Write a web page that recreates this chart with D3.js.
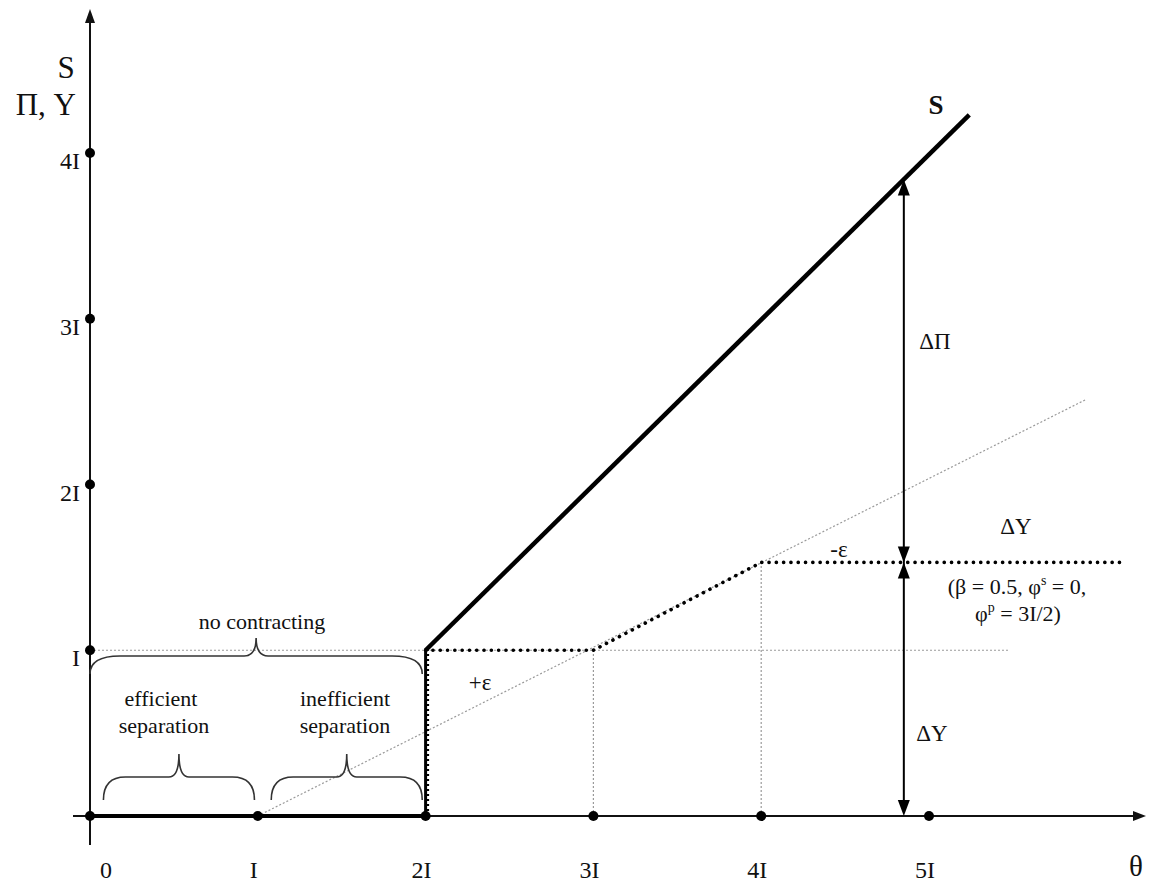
<!DOCTYPE html>
<html>
<head>
<meta charset="utf-8">
<script src="https://cdn.jsdelivr.net/npm/d3@7"></script>
<style>
  html, body { margin: 0; padding: 0; background: #fff; }
  svg { display: block; }
  text { font-family: "Liberation Serif", "DejaVu Serif", serif; fill: #111; }
</style>
</head>
<body>
<svg id="chart" width="1152" height="889"></svg>
<script>
// ---- data ----
const xTicks = [0, 1, 2, 3, 4, 5];
const xTickLabels = ["0", "I", "2I", "3I", "4I", "5I"];
const yTicks = [1, 2, 3, 4];
const yTickLabels = ["I", "2I", "3I", "4I"];

// S schedule (thick solid): zero up to 2I, then rises from (2I, I)
const sBase = [[0, 0], [2, 0]];
const sLine = [[2, 1], [5.24, 4.23]];
// thick dotted schedule
const dottedVertical = [[2, 0], [2, 1]];
const dottedPath = [[2, 1], [3, 1], [4, 1.53], [6.14, 1.53]];
// thin grey guides
const greyDiagonal = [[1, 0], [5.93, 2.51]];
const greyHorizontal = [[0, 1], [5.48, 1]];
const greyVerticals = [[[3, 0], [3, 1]], [[4, 0], [4, 1.53]]];
// double arrow position (theta) and its levels
const arrowTheta = 4.85;
const arrowLevels = { top: 3.84, mid: 1.53, bottom: 0 };

// ---- scales ----
const svg = d3.select("#chart");
const x = d3.scaleLinear().domain([0, 5]).range([90, 929]);
const y = d3.scaleLinear().domain([0, 4]).range([816, 153]);
const line = d3.line().x(d => x(d[0])).y(d => y(d[1]));

// ---- grey thin dotted guides ----
const grey = svg.append("g").attr("fill", "none").attr("stroke", "#9a9a9a")
  .attr("stroke-width", 1.2).attr("stroke-dasharray", "2 2");
grey.append("path").attr("d", line(greyDiagonal));
grey.append("path").attr("d", line(greyHorizontal));
greyVerticals.forEach(v => grey.append("path").attr("d", line(v)));

// ---- axes ----
const axes = svg.append("g").attr("stroke", "#111").attr("stroke-width", 2);
axes.append("line").attr("x1", 73).attr("x2", 1138).attr("y1", y(0)).attr("y2", y(0));
axes.append("line").attr("x1", x(0)).attr("x2", x(0)).attr("y1", 845).attr("y2", 18);
svg.append("path").attr("fill", "#111")
  .attr("d", `M1146,${y(0)} L1133,${y(0) - 5} L1133,${y(0) + 5} Z`);
svg.append("path").attr("fill", "#111")
  .attr("d", `M${x(0)},9 L${x(0) - 5},23 L${x(0) + 5},23 Z`);

// ---- thick solid S ----
svg.append("path").attr("d", line(sBase)).attr("fill", "none")
  .attr("stroke", "#000").attr("stroke-width", 4);
svg.append("path").attr("d", line(sLine)).attr("fill", "none")
  .attr("stroke", "#000").attr("stroke-width", 4.5).attr("stroke-linecap", "butt");

// ---- thick dotted ----
svg.append("path").attr("d", line(dottedVertical)).attr("fill", "none")
  .attr("stroke", "#000").attr("stroke-width", 3);
svg.append("path").attr("d", line(dottedVertical)).attr("fill", "none")
  .attr("stroke", "#000").attr("stroke-width", 3).attr("stroke-dasharray", "2 3")
  .attr("transform", "translate(2,0)");
svg.append("path").attr("d", line(dottedPath)).attr("fill", "none")
  .attr("stroke", "#000").attr("stroke-width", 3.6)
  .attr("stroke-linecap", "round").attr("stroke-dasharray", "0.1 7.2");

// ---- axis dots ----
svg.append("g").selectAll("circle").data(xTicks).join("circle")
  .attr("cx", d => x(d)).attr("cy", y(0)).attr("r", 5).attr("fill", "#000");
svg.append("g").selectAll("circle").data(yTicks).join("circle")
  .attr("cx", x(0)).attr("cy", d => y(d)).attr("r", 5).attr("fill", "#000");

// ---- tick labels ----
svg.append("g").selectAll("text").data(xTicks).join("text")
  .attr("x", d => x(d) + (d === 0 ? 16 : -4)).attr("y", 878)
  .attr("text-anchor", "middle").attr("font-size", 24)
  .text((d, i) => xTickLabels[i]);
svg.append("g").selectAll("text").data(yTicks).join("text")
  .attr("x", 80).attr("y", d => y(d) + 16)
  .attr("text-anchor", "end").attr("font-size", 24)
  .text((d, i) => yTickLabels[i]);

// ---- axis titles ----
svg.append("text").attr("x", 66).attr("y", 78).attr("text-anchor", "middle")
  .attr("font-size", 31).text("S");
svg.append("text").attr("x", 76).attr("y", 115).attr("text-anchor", "end")
  .attr("font-size", 31).text("Π, Y");
svg.append("text").attr("x", 1136).attr("y", 876).attr("text-anchor", "middle")
  .attr("font-size", 29).text("θ");

// ---- double arrow ----
const ax = x(arrowTheta);
const arr = svg.append("g");
arr.append("line").attr("x1", ax).attr("x2", ax)
  .attr("y1", y(arrowLevels.top) + 8).attr("y2", y(arrowLevels.bottom) - 8)
  .attr("stroke", "#000").attr("stroke-width", 2);
function head(px, py, dir) { // dir: -1 up, 1 down (tip at py)
  return `M${px},${py} L${px - 6},${py - dir * 16} L${px + 6},${py - dir * 16} Z`;
}
[[y(arrowLevels.top), -1], [y(arrowLevels.mid), 1], [y(arrowLevels.mid), -1], [y(arrowLevels.bottom), 1]]
  .forEach(([py, dir]) => arr.append("path").attr("d", head(ax, py, dir)).attr("fill", "#000"));

// ---- braces ----
function brace(x0, x1, yBase, yTop, yTip, r, r2) {
  const xm = (x0 + x1) / 2;
  return `M${x0},${yBase} Q${x0},${yTop} ${x0 + r},${yTop} L${xm - r2},${yTop} ` +
         `Q${xm},${yTop} ${xm},${yTip} Q${xm},${yTop} ${xm + r2},${yTop} ` +
         `L${x1 - r},${yTop} Q${x1},${yTop} ${x1},${yBase}`;
}
const br = svg.append("g").attr("fill", "none").attr("stroke", "#333").attr("stroke-width", 1.6);
br.append("path").attr("d", brace(x(0), x(1.98), 674, 656, 638, 30, 12));
br.append("path").attr("d", brace(x(0.08), x(0.98), 800, 777, 754, 22, 10));
br.append("path").attr("d", brace(x(1.08), x(1.98), 800, 777, 754, 22, 10));

// ---- annotations ----
const ann = svg.append("g").attr("text-anchor", "middle").attr("font-size", 22);
ann.append("text").attr("x", 262).attr("y", 629).text("no contracting");
ann.append("text").attr("x", 161).attr("y", 706).text("efficient");
ann.append("text").attr("x", 164).attr("y", 733).text("separation");
ann.append("text").attr("x", 345).attr("y", 706).text("inefficient");
ann.append("text").attr("x", 345).attr("y", 733).text("separation");
ann.append("text").attr("x", 480).attr("y", 690).attr("font-size", 23).text("+ε");
ann.append("text").attr("x", 839).attr("y", 557).attr("font-size", 23).text("-ε");
ann.append("text").attr("x", 936).attr("y", 114).attr("font-size", 27).attr("font-weight", "bold").text("S");
ann.append("text").attr("x", 935).attr("y", 349).attr("font-size", 23).text("ΔΠ");
ann.append("text").attr("x", 932).attr("y", 741).attr("font-size", 23).text("ΔY");
ann.append("text").attr("x", 1016).attr("y", 534).attr("font-size", 23).text("ΔY");
const p1 = ann.append("text").attr("x", 1017).attr("y", 594).attr("font-size", 22);
p1.append("tspan").text("(β = 0.5, φ");
p1.append("tspan").attr("font-size", 14).attr("dy", -9).text("s");
p1.append("tspan").attr("dy", 9).text(" = 0,");
const p2 = ann.append("text").attr("x", 1018).attr("y", 621).attr("font-size", 22);
p2.append("tspan").text("φ");
p2.append("tspan").attr("font-size", 14).attr("dy", -9).text("p");
p2.append("tspan").attr("dy", 9).text(" = 3I/2)");
</script>
</body>
</html>
